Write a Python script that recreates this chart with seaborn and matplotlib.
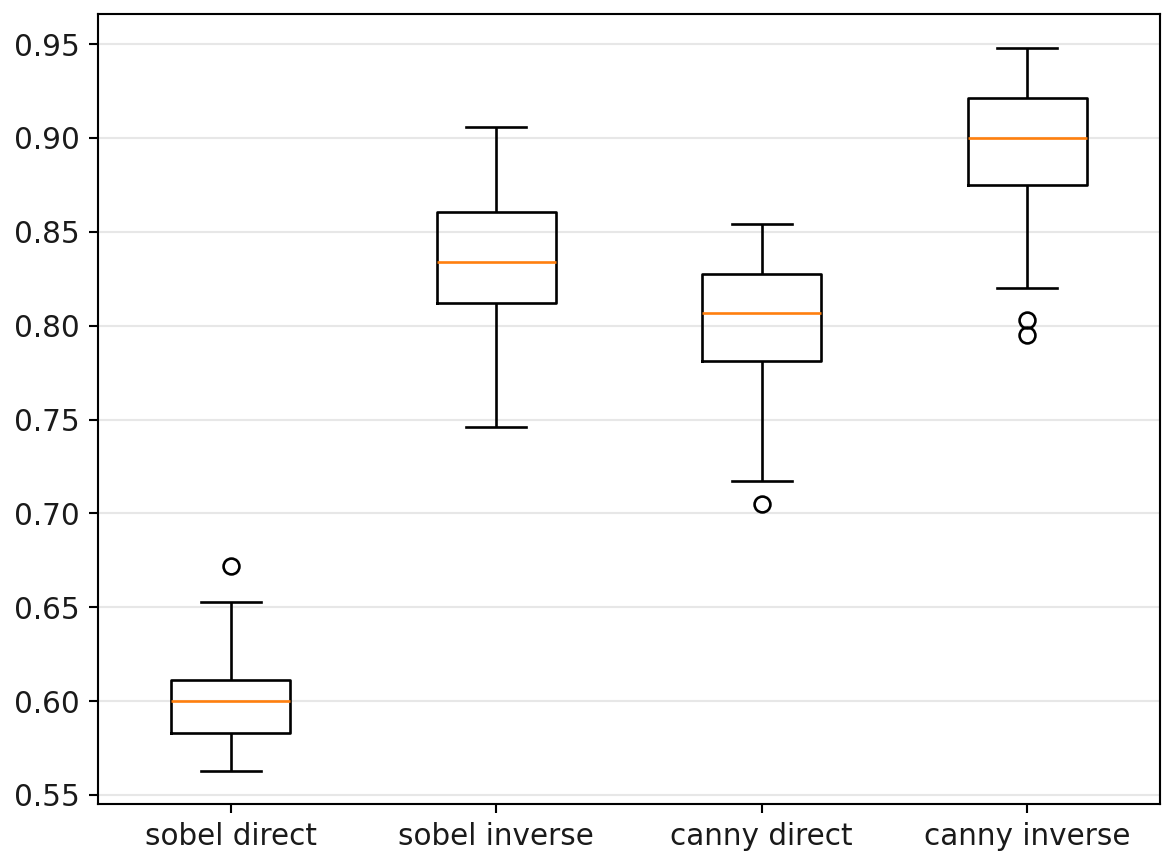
import matplotlib
matplotlib.use("Agg")
import matplotlib.pyplot as plt
import seaborn as sns
import pandas as pd

categories = ["sobel direct", "sobel inverse", "canny direct", "canny inverse"]

sobel_direct = [0.563, 0.571, 0.578, 0.583, 0.590, 0.596, 0.600,
                0.604, 0.607, 0.6112, 0.628, 0.653, 0.672]
sobel_inverse = [0.746, 0.772, 0.795, 0.812, 0.818, 0.826, 0.834,
                 0.842, 0.851, 0.8608, 0.874, 0.889, 0.906]
canny_direct = [0.705, 0.7175, 0.752, 0.781, 0.789, 0.798, 0.807,
                0.813, 0.820, 0.8275, 0.836, 0.845, 0.854]
canny_inverse = [0.795, 0.803, 0.820, 0.875, 0.884, 0.893, 0.900,
                 0.906, 0.913, 0.9215, 0.930, 0.939, 0.948]

series = [sobel_direct, sobel_inverse, canny_direct, canny_inverse]
df = pd.DataFrame({
    "method": [c for c, vals in zip(categories, series) for _ in vals],
    "score": [v for vals in series for v in vals],
})

dpi = 190
fig = plt.figure(figsize=(1172 / dpi, 860 / dpi), dpi=dpi)
ax = fig.add_axes([98 / 1172, 1 - 804 / 860, (1160 - 98) / 1172, (804 - 14) / 860])

sns.boxplot(
    data=df, x="method", y="score", order=categories,
    fill=False, color="black", width=0.45, linewidth=1.0, fliersize=6,
    medianprops={"color": "#ff7f0e", "linewidth": 1.0},
    flierprops={"marker": "o", "markerfacecolor": "none",
                "markeredgecolor": "black", "markeredgewidth": 1.0},
    whiskerprops={"color": "black"}, capprops={"color": "black"},
    boxprops={"color": "black"},
    ax=ax,
)

ax.set_ylim(0.5452, 0.966)
ax.set_xlim(-0.5, 3.5)
ax.yaxis.grid(True, color="#b0b0b0", alpha=0.3, linewidth=0.8)
ax.set_axisbelow(True)
ax.set_xlabel("")
ax.set_ylabel("")
ax.tick_params(labelsize=11.2, color="black", labelcolor="#1a1a1a")
for s in ax.spines.values():
    s.set_color("black")
    s.set_linewidth(0.8)

fig.savefig("out.png", dpi=dpi)
